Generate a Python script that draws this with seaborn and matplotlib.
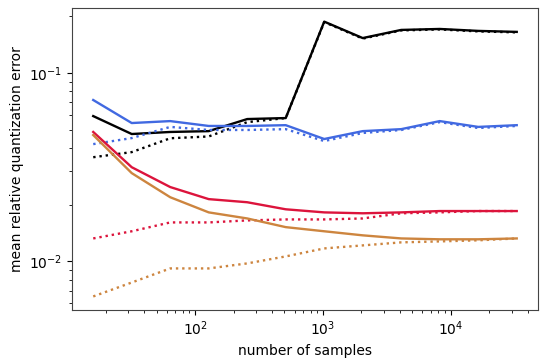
import numpy as np
import pandas as pd
import matplotlib
matplotlib.use("Agg")
import matplotlib.pyplot as plt
import seaborn as sns

samples = [16, 32, 64, 128, 256, 512, 1024, 2048, 4096, 8192, 16384, 32768]

black_solid = [0.059, 0.0474, 0.0486, 0.0491, 0.0569, 0.0576, 0.187, 0.153, 0.169, 0.171, 0.167, 0.165]
black_dotted = [0.0357, 0.038, 0.045, 0.046, 0.0548, 0.0576, 0.186, 0.152, 0.168, 0.170, 0.166, 0.164]
blue_solid = [0.0718, 0.0542, 0.0555, 0.0523, 0.0523, 0.0528, 0.0446, 0.0491, 0.0503, 0.0555, 0.0517, 0.0528]
blue_dotted = [0.0419, 0.0451, 0.0517, 0.0498, 0.0498, 0.0503, 0.0435, 0.048, 0.0498, 0.0548, 0.051, 0.0523]
red_solid = [0.0486, 0.0316, 0.0248, 0.0214, 0.0206, 0.0189, 0.0182, 0.018, 0.0182, 0.0185, 0.0185, 0.0185]
red_dotted = [0.01324, 0.01445, 0.0161, 0.0161, 0.0165, 0.0167, 0.0167, 0.0169, 0.018, 0.0182, 0.0185, 0.0185]
orange_solid = [0.0468, 0.0294, 0.0219, 0.0182, 0.0169, 0.0152, 0.01445, 0.01375, 0.01324, 0.0131, 0.0131, 0.01324]
orange_dotted = [0.00652, 0.00773, 0.00918, 0.00918, 0.00976, 0.01063, 0.01172, 0.01216, 0.01262, 0.01277, 0.01294, 0.01324]

series = [
    ("black_solid", black_solid, "black", "-"),
    ("black_dotted", black_dotted, "black", ":"),
    ("blue_solid", blue_solid, "royalblue", "-"),
    ("blue_dotted", blue_dotted, "royalblue", ":"),
    ("red_solid", red_solid, "crimson", "-"),
    ("red_dotted", red_dotted, "crimson", ":"),
    ("orange_solid", orange_solid, "peru", "-"),
    ("orange_dotted", orange_dotted, "peru", ":"),
]

fig = plt.figure(figsize=(5.5, 3.59), dpi=100)
ax = fig.add_axes([0.131, 0.136, 0.847, 0.842])

for name, vals, color, ls in series:
    df = pd.DataFrame({"samples": samples, "error": vals})
    sns.lineplot(data=df, x="samples", y="error", ax=ax, color=color,
                 linestyle=ls, linewidth=1.7)

ax.set_xscale("log")
ax.set_yscale("log")
ax.set_xlabel("number of samples")
ax.set_ylabel("mean relative quantization error")
for s in ax.spines.values():
    s.set_color("#444444")

fig.savefig("out.png", dpi=100)
